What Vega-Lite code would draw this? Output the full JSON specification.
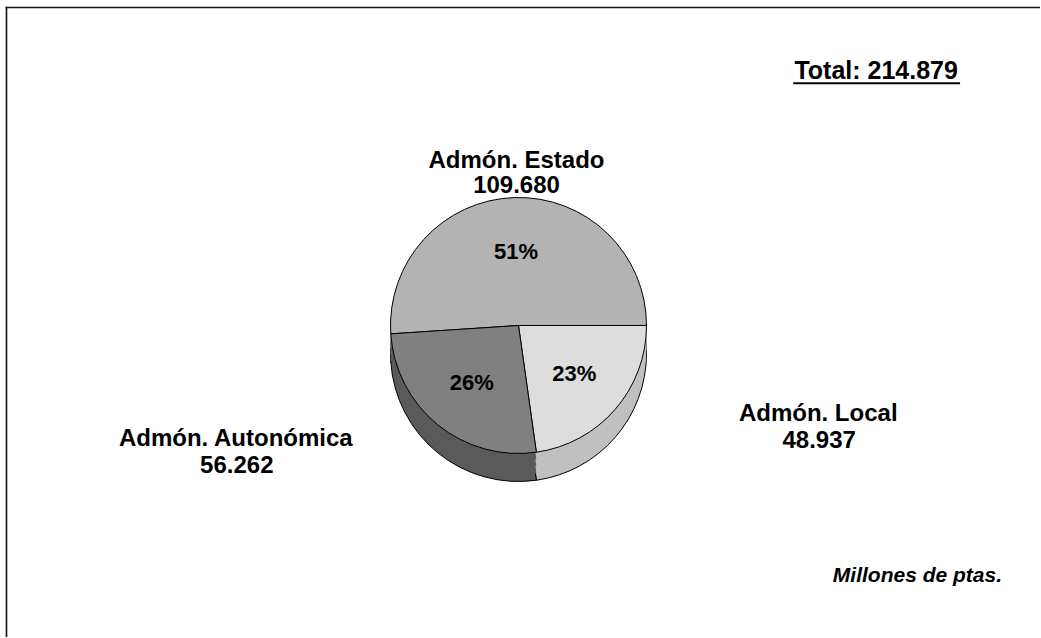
{
  "$schema": "https://vega.github.io/schema/vega-lite/v6.json",
  "width": 1041,
  "height": 638,
  "autosize": {"type": "fit", "contains": "padding"},
  "padding": 0,
  "background": "white",
  "config": {
    "view": {"stroke": null},
    "locale": {"number": {"decimal": ",", "thousands": ".", "grouping": [3], "currency": ["", " €"]}},
    "text": {"font": "Liberation Sans", "fontWeight": "bold", "color": "#000"}
  },
  "data": {"values": [
    {"sector": "Admón. Estado", "valor": 109680, "pct": "51%"},
    {"sector": "Admón. Local", "valor": 48937, "pct": "23%"},
    {"sector": "Admón. Autonómica", "valor": 56262, "pct": "26%"}
  ]},
  "layer": [
    {
      "mark": {"type": "arc", "outerRadius": 128, "yOffset": 28, "stroke": "#000", "strokeWidth": 1},
      "encoding": {
        "theta": {"field": "valor", "type": "quantitative", "stack": true, "scale": {"range": [1.5707963, 7.8539816]}},
        "order": {"field": "valor", "sort": "ascending"},
        "color": {"field": "sector", "type": "nominal", "scale": {"domain": ["Admón. Estado", "Admón. Local", "Admón. Autonómica"], "range": ["#8c8c8c", "#c0c0c0", "#5a5a5a"]}, "legend": null},
        "x": {"datum": 519, "type": "quantitative", "scale": {"domain": [0, 1041], "nice": false, "zero": false}, "axis": null},
        "y": {"datum": 326, "type": "quantitative", "scale": {"domain": [638, 0], "nice": false, "zero": false}, "axis": null}
      }
    },
    {
      "mark": {"type": "arc", "outerRadius": 128, "yOffset": 21},
      "encoding": {
        "theta": {"field": "valor", "type": "quantitative", "stack": true, "scale": {"range": [1.5707963, 7.8539816]}},
        "order": {"field": "valor", "sort": "ascending"},
        "color": {"field": "sector", "type": "nominal", "scale": {"domain": ["Admón. Estado", "Admón. Local", "Admón. Autonómica"], "range": ["#8c8c8c", "#c0c0c0", "#5a5a5a"]}, "legend": null},
        "x": {"datum": 519, "type": "quantitative", "scale": {"domain": [0, 1041], "nice": false, "zero": false}, "axis": null},
        "y": {"datum": 326, "type": "quantitative", "scale": {"domain": [638, 0], "nice": false, "zero": false}, "axis": null}
      }
    },
    {
      "mark": {"type": "arc", "outerRadius": 128, "yOffset": 14},
      "encoding": {
        "theta": {"field": "valor", "type": "quantitative", "stack": true, "scale": {"range": [1.5707963, 7.8539816]}},
        "order": {"field": "valor", "sort": "ascending"},
        "color": {"field": "sector", "type": "nominal", "scale": {"domain": ["Admón. Estado", "Admón. Local", "Admón. Autonómica"], "range": ["#8c8c8c", "#c0c0c0", "#5a5a5a"]}, "legend": null},
        "x": {"datum": 519, "type": "quantitative", "scale": {"domain": [0, 1041], "nice": false, "zero": false}, "axis": null},
        "y": {"datum": 326, "type": "quantitative", "scale": {"domain": [638, 0], "nice": false, "zero": false}, "axis": null}
      }
    },
    {
      "mark": {"type": "arc", "outerRadius": 128, "yOffset": 7},
      "encoding": {
        "theta": {"field": "valor", "type": "quantitative", "stack": true, "scale": {"range": [1.5707963, 7.8539816]}},
        "order": {"field": "valor", "sort": "ascending"},
        "color": {"field": "sector", "type": "nominal", "scale": {"domain": ["Admón. Estado", "Admón. Local", "Admón. Autonómica"], "range": ["#8c8c8c", "#c0c0c0", "#5a5a5a"]}, "legend": null},
        "x": {"datum": 519, "type": "quantitative", "scale": {"domain": [0, 1041], "nice": false, "zero": false}, "axis": null},
        "y": {"datum": 326, "type": "quantitative", "scale": {"domain": [638, 0], "nice": false, "zero": false}, "axis": null}
      }
    },
    {
      "mark": {"type": "arc", "outerRadius": 128, "stroke": "#000", "strokeWidth": 1},
      "encoding": {
        "theta": {"field": "valor", "type": "quantitative", "stack": true, "scale": {"range": [1.5707963, 7.8539816]}},
        "order": {"field": "valor", "sort": "ascending"},
        "color": {"field": "sector", "type": "nominal", "scale": {"domain": ["Admón. Estado", "Admón. Local", "Admón. Autonómica"], "range": ["#b3b3b3", "#dddddd", "#808080"]}, "legend": null},
        "x": {"datum": 519, "type": "quantitative", "scale": {"domain": [0, 1041], "nice": false, "zero": false}, "axis": null},
        "y": {"datum": 326, "type": "quantitative", "scale": {"domain": [638, 0], "nice": false, "zero": false}, "axis": null}
      }
    },
    {
      "mark": {"type": "text", "radius": 74, "fontSize": 22, "baseline": "middle", "align": "center"},
      "encoding": {
        "theta": {"field": "valor", "type": "quantitative", "stack": true, "scale": {"range": [1.5707963, 7.8539816]}},
        "order": {"field": "valor", "sort": "ascending"},
        "text": {"field": "pct", "type": "nominal"},
        "x": {"datum": 519, "type": "quantitative", "scale": {"domain": [0, 1041], "nice": false, "zero": false}, "axis": null},
        "y": {"datum": 326, "type": "quantitative", "scale": {"domain": [638, 0], "nice": false, "zero": false}, "axis": null}
      }
    },
    {
      "transform": [{"filter": "datum.sector === 'Admón. Estado'"}],
      "mark": {"type": "text", "fontSize": 24, "baseline": "alphabetic", "align": "center"},
      "encoding": {
        "text": {"field": "sector", "type": "nominal"},
        "x": {"datum": 517, "type": "quantitative", "scale": {"domain": [0, 1041], "nice": false, "zero": false}, "axis": null},
        "y": {"datum": 168, "type": "quantitative", "scale": {"domain": [638, 0], "nice": false, "zero": false}, "axis": null}
      }
    },
    {
      "transform": [{"filter": "datum.sector === 'Admón. Estado'"}],
      "mark": {"type": "text", "fontSize": 24, "baseline": "alphabetic", "align": "center"},
      "encoding": {
        "text": {"field": "valor", "type": "quantitative", "format": ",d"},
        "x": {"datum": 517, "type": "quantitative", "scale": {"domain": [0, 1041], "nice": false, "zero": false}, "axis": null},
        "y": {"datum": 193, "type": "quantitative", "scale": {"domain": [638, 0], "nice": false, "zero": false}, "axis": null}
      }
    },
    {
      "transform": [{"filter": "datum.sector === 'Admón. Local'"}],
      "mark": {"type": "text", "fontSize": 24, "baseline": "alphabetic", "align": "center"},
      "encoding": {
        "text": {"field": "sector", "type": "nominal"},
        "x": {"datum": 819, "type": "quantitative", "scale": {"domain": [0, 1041], "nice": false, "zero": false}, "axis": null},
        "y": {"datum": 422, "type": "quantitative", "scale": {"domain": [638, 0], "nice": false, "zero": false}, "axis": null}
      }
    },
    {
      "transform": [{"filter": "datum.sector === 'Admón. Local'"}],
      "mark": {"type": "text", "fontSize": 24, "baseline": "alphabetic", "align": "center"},
      "encoding": {
        "text": {"field": "valor", "type": "quantitative", "format": ",d"},
        "x": {"datum": 820, "type": "quantitative", "scale": {"domain": [0, 1041], "nice": false, "zero": false}, "axis": null},
        "y": {"datum": 449, "type": "quantitative", "scale": {"domain": [638, 0], "nice": false, "zero": false}, "axis": null}
      }
    },
    {
      "transform": [{"filter": "datum.sector === 'Admón. Autonómica'"}],
      "mark": {"type": "text", "fontSize": 24, "baseline": "alphabetic", "align": "center"},
      "encoding": {
        "text": {"field": "sector", "type": "nominal"},
        "x": {"datum": 236, "type": "quantitative", "scale": {"domain": [0, 1041], "nice": false, "zero": false}, "axis": null},
        "y": {"datum": 447, "type": "quantitative", "scale": {"domain": [638, 0], "nice": false, "zero": false}, "axis": null}
      }
    },
    {
      "transform": [{"filter": "datum.sector === 'Admón. Autonómica'"}],
      "mark": {"type": "text", "fontSize": 24, "baseline": "alphabetic", "align": "center"},
      "encoding": {
        "text": {"field": "valor", "type": "quantitative", "format": ",d"},
        "x": {"datum": 237, "type": "quantitative", "scale": {"domain": [0, 1041], "nice": false, "zero": false}, "axis": null},
        "y": {"datum": 474, "type": "quantitative", "scale": {"domain": [638, 0], "nice": false, "zero": false}, "axis": null}
      }
    },
    {
      "data": {"values": [{"etiqueta": "Total: 214.879"}]},
      "mark": {"type": "text", "fontSize": 25, "baseline": "alphabetic", "align": "center"},
      "encoding": {
        "text": {"field": "etiqueta", "type": "nominal"},
        "x": {"datum": 877, "type": "quantitative", "scale": {"domain": [0, 1041], "nice": false, "zero": false}, "axis": null},
        "y": {"datum": 79, "type": "quantitative", "scale": {"domain": [638, 0], "nice": false, "zero": false}, "axis": null}
      }
    },
    {
      "data": {"values": [{"etiqueta": "Total: 214.879"}]},
      "mark": {"type": "rule", "stroke": "#000", "strokeWidth": 2},
      "encoding": {
        "x": {"datum": 794, "type": "quantitative", "scale": {"domain": [0, 1041], "nice": false, "zero": false}, "axis": null},
        "x2": {"datum": 961},
        "y": {"datum": 83.5, "type": "quantitative", "scale": {"domain": [638, 0], "nice": false, "zero": false}, "axis": null}
      }
    },
    {
      "data": {"values": [{"etiqueta": "Millones de ptas."}]},
      "mark": {"type": "text", "fontSize": 21, "fontStyle": "italic", "baseline": "alphabetic", "align": "right"},
      "encoding": {
        "text": {"field": "etiqueta", "type": "nominal"},
        "x": {"datum": 1003, "type": "quantitative", "scale": {"domain": [0, 1041], "nice": false, "zero": false}, "axis": null},
        "y": {"datum": 583, "type": "quantitative", "scale": {"domain": [638, 0], "nice": false, "zero": false}, "axis": null}
      }
    },
    {
      "data": {"values": [{"marco": "izquierda"}]},
      "mark": {"type": "rule", "stroke": "#111", "strokeWidth": 1.6},
      "encoding": {
        "x": {"datum": 6.5, "type": "quantitative", "scale": {"domain": [0, 1041], "nice": false, "zero": false}, "axis": null},
        "y": {"datum": 6.7, "type": "quantitative", "scale": {"domain": [638, 0], "nice": false, "zero": false}, "axis": null},
        "y2": {"datum": 638}
      }
    },
    {
      "data": {"values": [{"marco": "arriba"}]},
      "mark": {"type": "rule", "stroke": "#111", "strokeWidth": 1.6},
      "encoding": {
        "x": {"datum": 5.7, "type": "quantitative", "scale": {"domain": [0, 1041], "nice": false, "zero": false}, "axis": null},
        "x2": {"datum": 1041},
        "y": {"datum": 7.5, "type": "quantitative", "scale": {"domain": [638, 0], "nice": false, "zero": false}, "axis": null}
      }
    }
  ],
  "resolve": {"scale": {"color": "independent"}}
}
